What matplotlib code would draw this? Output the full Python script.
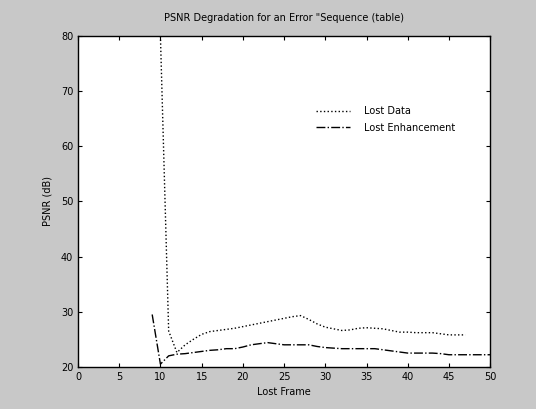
import matplotlib
matplotlib.use("Agg")
import matplotlib.pyplot as plt

title = 'PSNR Degradation for an Error "Sequence (table)'
xlabel = "Lost Frame"
ylabel = "PSNR (dB)"
legend_labels = ["Lost Data", "Lost Enhancement"]

x_ticks = [0, 5, 10, 15, 20, 25, 30, 35, 40, 45, 50]
y_ticks = [20, 30, 40, 50, 60, 70, 80]

# upper series (spike at frame 10)
frames_a = [10, 11, 12, 13, 14, 15, 16, 17, 18, 19, 20, 21, 22, 23, 24, 25, 26, 27, 28,
            29, 30, 31, 32, 33, 34, 35, 36, 37, 38, 39, 40, 41, 42, 43, 44, 45, 46, 47]
psnr_a = [80, 26.5, 22.6, 24.0, 25.0, 25.9, 26.4, 26.6, 26.8, 27.0, 27.3, 27.6, 27.9, 28.2,
          28.5, 28.8, 29.1, 29.3, 28.6, 27.8, 27.2, 26.9, 26.6, 26.7, 27.0, 27.1, 27.0, 26.9,
          26.6, 26.3, 26.3, 26.2, 26.2, 26.2, 26.0, 25.8, 25.8, 25.8]

# lower series
frames_b = [9, 10, 11, 12, 13, 14, 15, 16, 17, 18, 19, 20, 21, 22, 23, 24, 25, 26, 27, 28,
            29, 30, 31, 32, 33, 34, 35, 36, 37, 38, 39, 40, 41, 42, 43, 44, 45, 46, 47, 48,
            49, 50]
psnr_b = [29.5, 20.5, 22.0, 22.3, 22.4, 22.6, 22.8, 23.0, 23.1, 23.3, 23.3, 23.6, 24.0,
          24.2, 24.4, 24.2, 24.0, 24.0, 24.0, 24.0, 23.7, 23.5, 23.4, 23.3, 23.3, 23.3, 23.3,
          23.3, 23.1, 22.9, 22.7, 22.5, 22.5, 22.5, 22.5, 22.4, 22.2, 22.2, 22.2, 22.2, 22.2,
          22.2]

fig = plt.figure(figsize=(5.36, 4.09), dpi=100, facecolor="#c8c8c8")
ax = fig.add_axes([0.1455, 0.103, 0.769, 0.809])
ax.set_facecolor("white")

ax.plot(frames_a, psnr_a, color="black", linestyle=":", linewidth=1.0, label=legend_labels[0])
ax.plot(frames_b, psnr_b, color="black", linestyle="-.", linewidth=1.0, label=legend_labels[1])

ax.set_xlim(0, 50)
ax.set_ylim(20, 80)
ax.set_xticks(x_ticks)
ax.set_yticks(y_ticks)
ax.tick_params(direction="in", top=True, right=True, labelsize=7, length=3, width=0.8)
for s in ax.spines.values():
    s.set_linewidth(1.0)

ax.set_title(title, fontsize=7, pad=11)
ax.set_xlabel(xlabel, fontsize=7, labelpad=4)
ax.set_ylabel(ylabel, fontsize=7, labelpad=6)

ax.legend(loc="upper left", bbox_to_anchor=(0.555, 0.815), frameon=False, fontsize=7,
          handlelength=3.5, handletextpad=1.5, labelspacing=0.7)

fig.savefig("out.png", dpi=100, facecolor=fig.get_facecolor())
